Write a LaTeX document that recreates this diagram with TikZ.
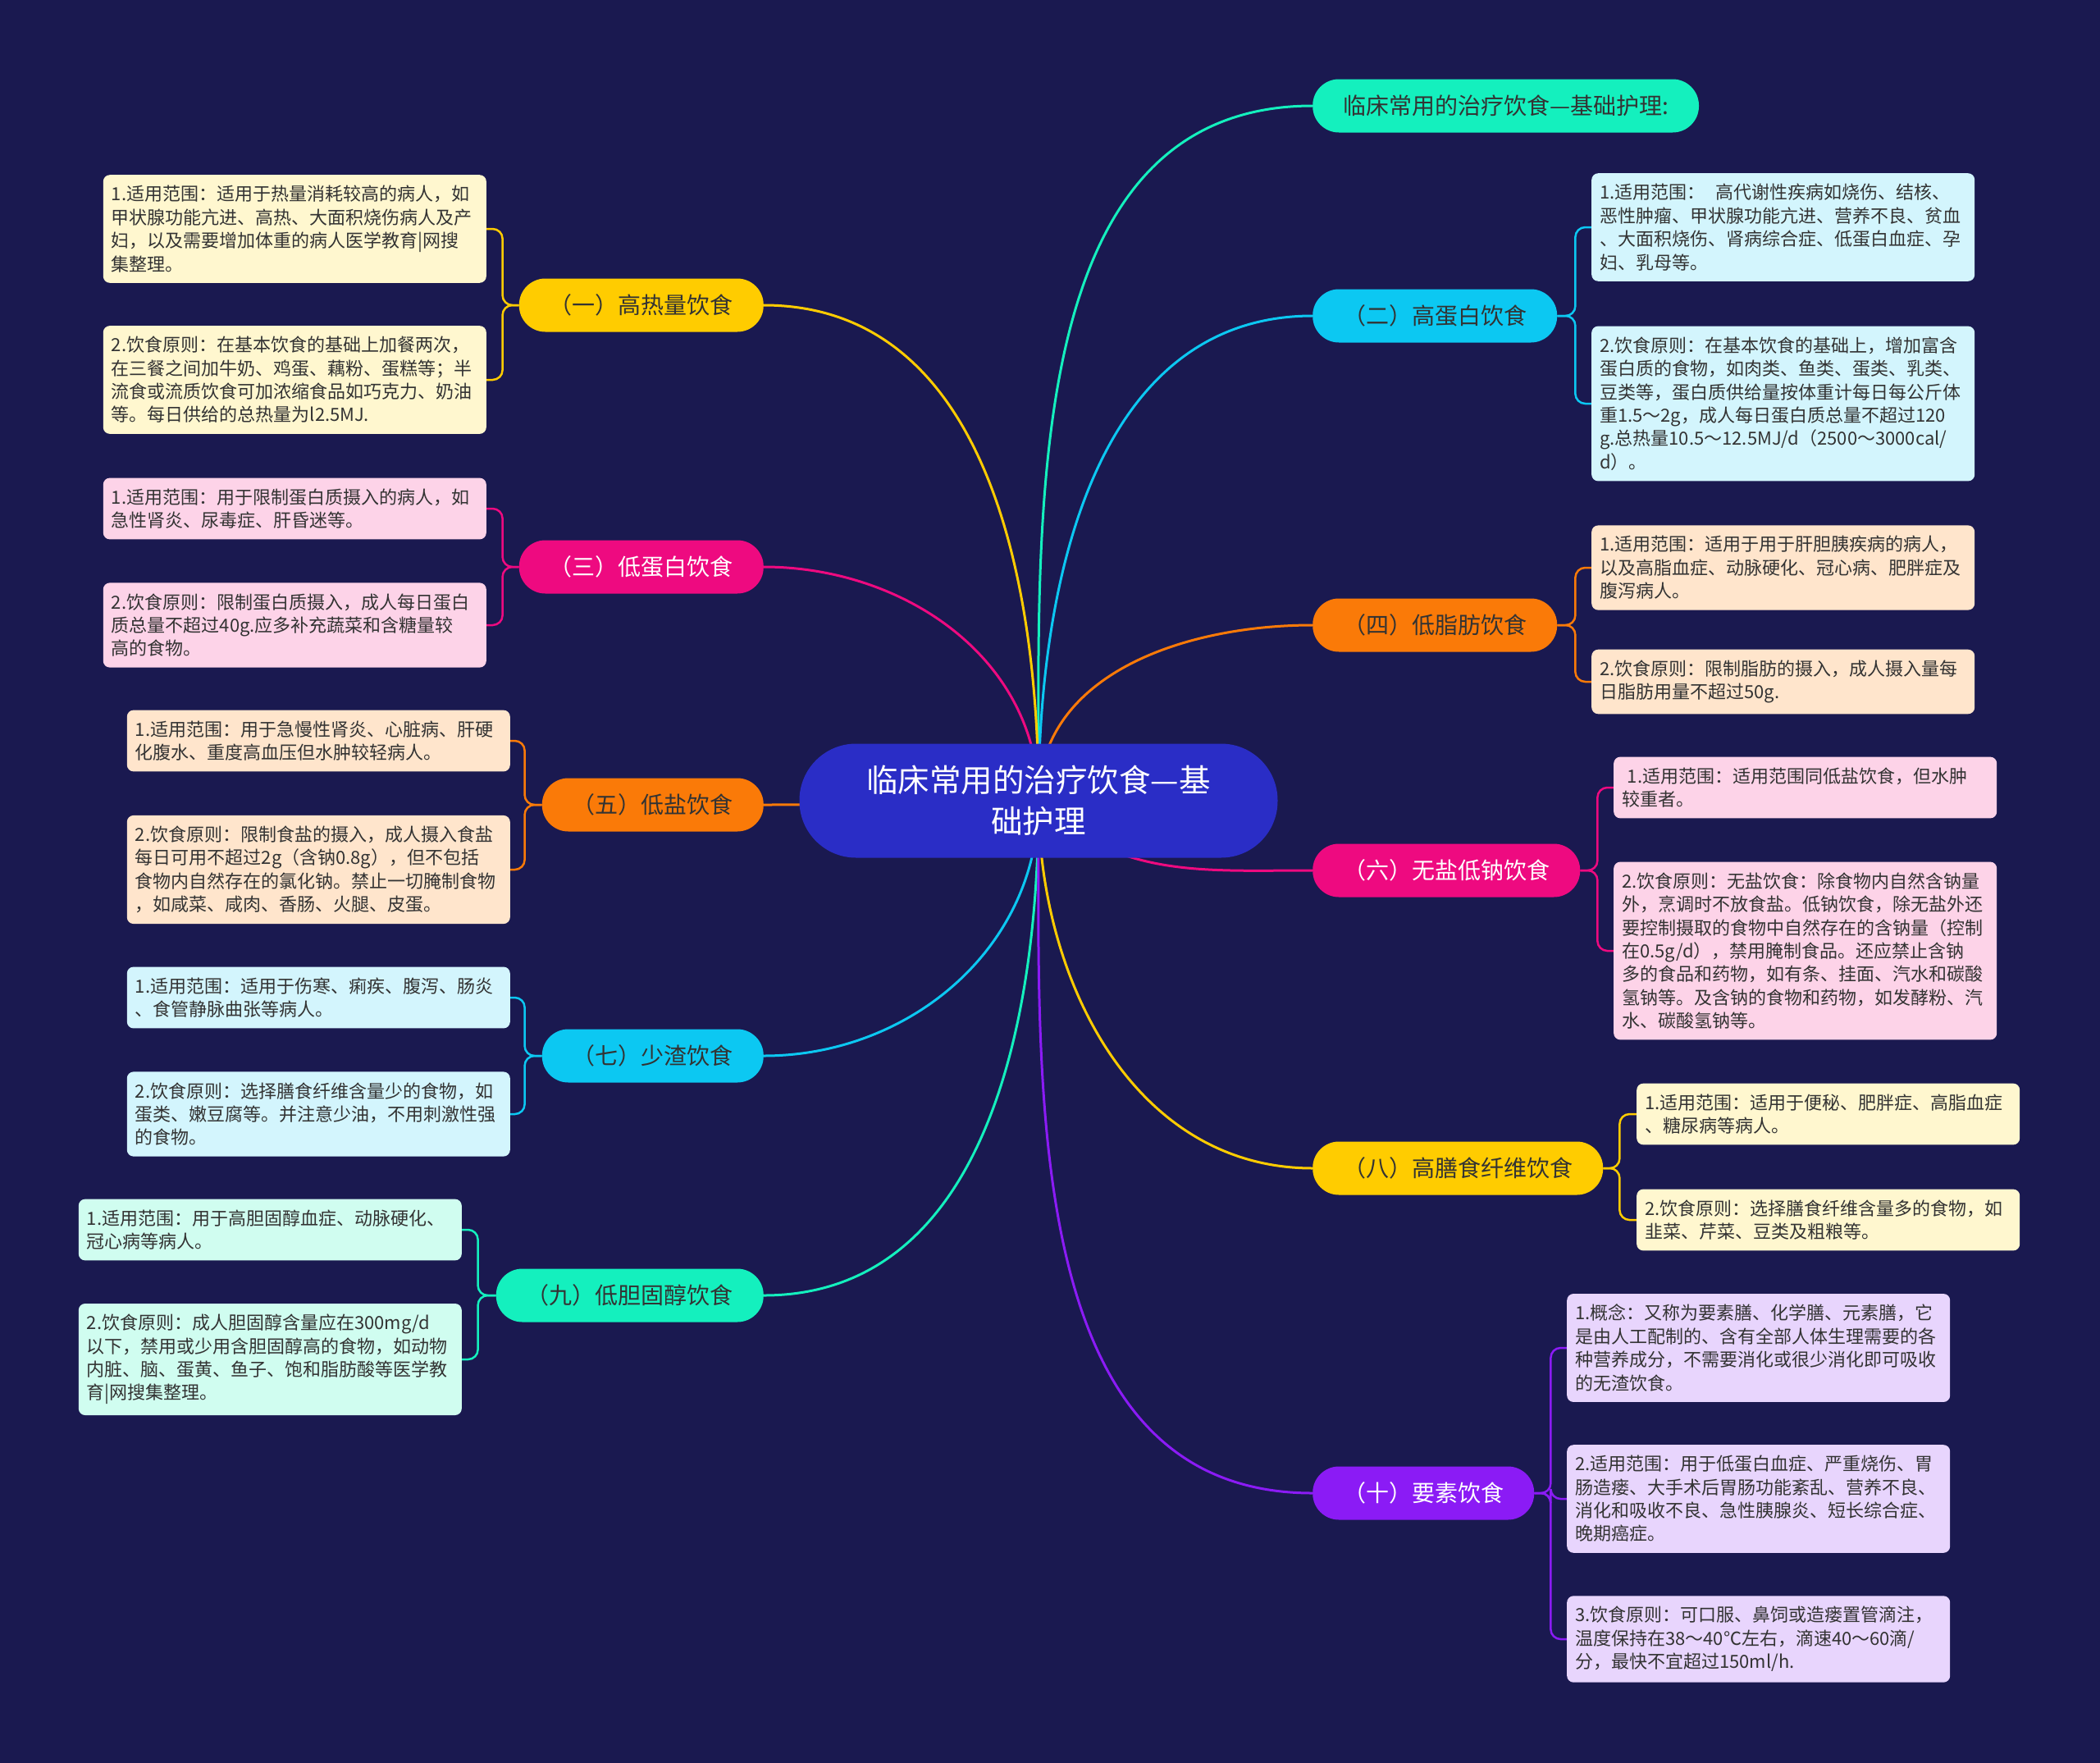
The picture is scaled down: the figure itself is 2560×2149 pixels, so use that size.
\documentclass[tikz,border=0pt]{standalone}
\usepackage{fontspec}
\setmainfont{Noto Sans CJK SC}
\usepackage{tikz}
\usetikzlibrary{backgrounds}
\definecolor{bgnavy}{HTML}{1A1950}
\definecolor{rootblue}{HTML}{2A2DC6}
\definecolor{ink}{HTML}{333333}
\definecolor{yel}{HTML}{FFCC00}
\definecolor{cya}{HTML}{0CC8F2}
\definecolor{mag}{HTML}{EE0A80}
\definecolor{ora}{HTML}{FA7A08}
\definecolor{mint}{HTML}{14F0BE}
\definecolor{pur}{HTML}{8B1BF5}
\definecolor{yelpale}{HTML}{FFF7CF}
\definecolor{cyapale}{HTML}{D3F5FD}
\definecolor{magpale}{HTML}{FDD3E8}
\definecolor{orapale}{HTML}{FFE5CC}
\definecolor{mintpale}{HTML}{D0FDF0}
\definecolor{purpale}{HTML}{E8D5FD}

\begin{document}
\begin{tikzpicture}[
  x=1pt, y=-1pt,
  rootbox/.style={fill=rootblue, text=white, rounded corners=69pt, minimum width=583pt, minimum height=139pt, align=center, font=\fontsize{38.5}{50}\selectfont},
  topic/.style={fill=#1, text=ink, rounded corners=32pt, minimum height=65pt, inner xsep=37pt, font=\fontsize{28}{34}\selectfont},
  leaf/.style={fill=#1, text=ink, rounded corners=8pt, text width=447pt, inner xsep=10pt, inner ysep=13pt, align=left, font=\fontsize{22}{28.4}\selectfont},
  link/.style={draw=#1, line width=3pt},
  brace/.style={draw=#1, line width=2.5pt, rounded corners=12pt},
]
  \useasboundingbox (0,0) rectangle (2560,2149);

  % centre and main topics
  \node[rootbox] (root) at (1266,976) {临床常用的治疗饮食—基\\础护理};
  \node[topic=mint, anchor=west] (title) at (1600,129) {临床常用的治疗饮食—基础护理:};
  \node[topic=yel, anchor=east] (hiCal) at (931,372) {（一）高热量饮食};
  \node[topic=cya, anchor=west] (hiProt) at (1600,385) {（二）高蛋白饮食};
  \node[topic=mag, text=white, anchor=east] (loProt) at (931,691) {（三）低蛋白饮食};
  \node[topic=ora, anchor=west] (loFat) at (1600,762) {（四）低脂肪饮食};
  \node[topic=ora, anchor=east] (loSalt) at (931,981) {（五）低盐饮食};
  \node[topic=mag, text=white, anchor=west] (noSalt) at (1600,1061) {（六）无盐低钠饮食};
  \node[topic=cya, anchor=east] (loRes) at (931,1287) {（七）少渣饮食};
  \node[topic=yel, anchor=west] (hiFib) at (1600,1424) {（八）高膳食纤维饮食};
  \node[topic=mint, anchor=east] (loChol) at (931,1579) {（九）低胆固醇饮食};
  \node[topic=pur, text=white, anchor=west] (elem) at (1600,1820) {（十）要素饮食};

  % left leaves
  \node[leaf=yelpale, anchor=east] (hiCalA) at (593,279) {1.适用范围：适用于热量消耗较高的病人，如\\甲状腺功能亢进、高热、大面积烧伤病人及产\\妇，以及需要增加体重的病人医学教育|网搜\\集整理。};
  \node[leaf=yelpale, anchor=east] (hiCalB) at (593,463) {2.饮食原则：在基本饮食的基础上加餐两次，\\在三餐之间加牛奶、鸡蛋、藕粉、蛋糕等；半\\流食或流质饮食可加浓缩食品如巧克力、奶油\\等。每日供给的总热量为l2.5MJ.};
  \node[leaf=magpale, anchor=east] (loProtA) at (593,620) {1.适用范围：用于限制蛋白质摄入的病人，如\\急性肾炎、尿毒症、肝昏迷等。};
  \node[leaf=magpale, anchor=east] (loProtB) at (593,762) {2.饮食原则：限制蛋白质摄入，成人每日蛋白\\质总量不超过40g.应多补充蔬菜和含糖量较\\高的食物。};
  \node[leaf=orapale, anchor=east] (loSaltA) at (622,903) {1.适用范围：用于急慢性肾炎、心脏病、肝硬\\化腹水、重度高血压但水肿较轻病人。};
  \node[leaf=orapale, anchor=east] (loSaltB) at (622,1060) {2.饮食原则：限制食盐的摄入，成人摄入食盐\\每日可用不超过2g（含钠0.8g），但不包括\\食物内自然存在的氯化钠。禁止一切腌制食物\\，如咸菜、咸肉、香肠、火腿、皮蛋。};
  \node[leaf=cyapale, anchor=east] (loResA) at (622,1216) {1.适用范围：适用于伤寒、痢疾、腹泻、肠炎\\、食管静脉曲张等病人。};
  \node[leaf=cyapale, anchor=east] (loResB) at (622,1358) {2.饮食原则：选择膳食纤维含量少的食物，如\\蛋类、嫩豆腐等。并注意少油，不用刺激性强\\的食物。};
  \node[leaf=mintpale, anchor=east] (loCholA) at (563,1499) {1.适用范围：用于高胆固醇血症、动脉硬化、\\冠心病等病人。};
  \node[leaf=mintpale, anchor=east] (loCholB) at (563,1657) {2.饮食原则：成人胆固醇含量应在300mg/d\\以下，禁用或少用含胆固醇高的食物，如动物\\内脏、脑、蛋黄、鱼子、饱和脂肪酸等医学教\\育|网搜集整理。};

  % right leaves
  \node[leaf=cyapale, anchor=west] (hiProtA) at (1940,277) {1.适用范围：\hspace{0.6em}高代谢性疾病如烧伤、结核、\\恶性肿瘤、甲状腺功能亢进、营养不良、贫血\\、大面积烧伤、肾病综合症、低蛋白血症、孕\\妇、乳母等。};
  \node[leaf=cyapale, anchor=west] (hiProtB) at (1940,492) {2.饮食原则：在基本饮食的基础上，增加富含\\蛋白质的食物，如肉类、鱼类、蛋类、乳类、\\豆类等，蛋白质供给量按体重计每日每公斤体\\重1.5～2g，成人每日蛋白质总量不超过120\\g.总热量10.5～12.5MJ/d（2500～3000cal/\\d）。};
  \node[leaf=orapale, anchor=west] (loFatA) at (1940,692) {1.适用范围：适用于用于肝胆胰疾病的病人，\\以及高脂血症、动脉硬化、冠心病、肥胖症及\\腹泻病人。};
  \node[leaf=orapale, anchor=west] (loFatB) at (1940,831) {2.饮食原则：限制脂肪的摄入，成人摄入量每\\日脂肪用量不超过50g.};
  \node[leaf=magpale, anchor=west] (noSaltA) at (1967,960) {\hspace*{0.3em}1.适用范围：适用范围同低盐饮食，但水肿\\较重者。};
  \node[leaf=magpale, anchor=west] (noSaltB) at (1967,1159) {2.饮食原则：无盐饮食：除食物内自然含钠量\\外，烹调时不放食盐。低钠饮食，除无盐外还\\要控制摄取的食物中自然存在的含钠量（控制\\在0.5g/d），禁用腌制食品。还应禁止含钠\\多的食品和药物，如有条、挂面、汽水和碳酸\\氢钠等。及含钠的食物和药物，如发酵粉、汽\\水、碳酸氢钠等。};
  \node[leaf=yelpale, anchor=west] (hiFibA) at (1995,1358) {1.适用范围：适用于便秘、肥胖症、高脂血症\\、糖尿病等病人。};
  \node[leaf=yelpale, anchor=west] (hiFibB) at (1995,1487) {2.饮食原则：选择膳食纤维含量多的食物，如\\韭菜、芹菜、豆类及粗粮等。};
  \node[leaf=purpale, anchor=west] (elemA) at (1910,1643) {1.概念：又称为要素膳、化学膳、元素膳，它\\是由人工配制的、含有全部人体生理需要的各\\种营养成分，不需要消化或很少消化即可吸收\\的无渣饮食。};
  \node[leaf=purpale, anchor=west] (elemB) at (1910,1827) {2.适用范围：用于低蛋白血症、严重烧伤、胃\\肠造瘘、大手术后胃肠功能紊乱、营养不良、\\消化和吸收不良、急性胰腺炎、短长综合症、\\晚期癌症。};
  \node[leaf=purpale, anchor=west] (elemC) at (1910,1998) {3.饮食原则：可口服、鼻饲或造瘘置管滴注，\\温度保持在38～40℃左右，滴速40～60滴/\\分，最快不宜超过150ml/h.};

  \begin{scope}[on background layer]
    \fill[bgnavy] (0,0) rectangle (2560,2149);
    % centre to topics
    \draw[link=mint] (root.center) to[out=90,in=180] (title.west);
    \draw[link=yel] (root.center) to[out=90,in=0] (hiCal.east);
    \draw[link=cya] (root.center) to[out=90,in=180] (hiProt.west);
    \draw[link=mag] (root.center) to[out=90,in=0] (loProt.east);
    \draw[link=ora] (root.center) to[out=90,in=180] (loFat.west);
    \draw[link=ora] (root.center) to[out=180,in=0] (loSalt.east);
    \draw[link=mag] (root.center) to[out=-45,in=180] (noSalt.west);
    \draw[link=cya] (root.center) to[out=-90,in=0] (loRes.east);
    \draw[link=yel] (root.center) to[out=-90,in=180] (hiFib.west);
    \draw[link=mint] (root.center) to[out=-90,in=0] (loChol.east);
    \draw[link=pur] (root.center) to[out=-90,in=180] (elem.west);
    % topics to leaves
    \draw[brace=yel] (hiCal.west) -- ++(-20,0) |- (hiCalA.east);
    \draw[brace=yel] (hiCal.west) -- ++(-20,0) |- (hiCalB.east);
    \draw[brace=mag] (loProt.west) -- ++(-20,0) |- (loProtA.east);
    \draw[brace=mag] (loProt.west) -- ++(-20,0) |- (loProtB.east);
    \draw[brace=ora] (loSalt.west) -- ++(-21,0) |- (loSaltA.east);
    \draw[brace=ora] (loSalt.west) -- ++(-21,0) |- (loSaltB.east);
    \draw[brace=cya] (loRes.west) -- ++(-21,0) |- (loResA.east);
    \draw[brace=cya] (loRes.west) -- ++(-21,0) |- (loResB.east);
    \draw[brace=mint] (loChol.west) -- ++(-22,0) |- (loCholA.east);
    \draw[brace=mint] (loChol.west) -- ++(-22,0) |- (loCholB.east);
    \draw[brace=cya] (hiProt.east) -- ++(22,0) |- (hiProtA.west);
    \draw[brace=cya] (hiProt.east) -- ++(22,0) |- (hiProtB.west);
    \draw[brace=ora] (loFat.east) -- ++(22,0) |- (loFatA.west);
    \draw[brace=ora] (loFat.east) -- ++(22,0) |- (loFatB.west);
    \draw[brace=mag] (noSalt.east) -- ++(21,0) |- (noSaltA.west);
    \draw[brace=mag] (noSalt.east) -- ++(21,0) |- (noSaltB.west);
    \draw[brace=yel] (hiFib.east) -- ++(20,0) |- (hiFibA.west);
    \draw[brace=yel] (hiFib.east) -- ++(20,0) |- (hiFibB.west);
    \draw[brace=pur] (elem.east) -- ++(20,0) |- (elemA.west);
    \draw[brace=pur] (elem.east) -- ++(20,0) |- (elemB.west);
    \draw[brace=pur] (elem.east) -- ++(20,0) |- (elemC.west);
  \end{scope}
\end{tikzpicture}
\end{document}
